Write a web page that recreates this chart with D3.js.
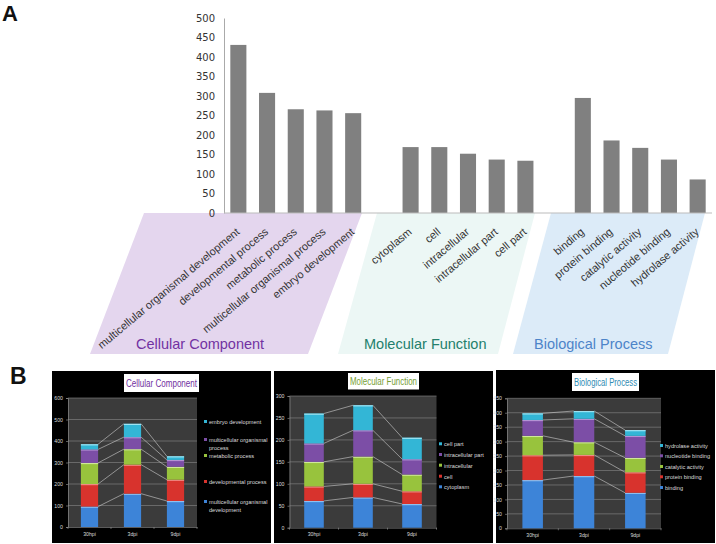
<!DOCTYPE html>
<html><head><meta charset="utf-8">
<script src="https://cdn.jsdelivr.net/npm/d3@7"></script>
<style>body{margin:0;background:#fff}svg{display:block}</style>
</head><body><svg id="c" width="716" height="544"></svg>
<script>
// ---------- Panel A data ----------
const groupNames = ["Cellular Component", "Molecular Function", "Biological Process"];
const ccTerms = ["multicellular organismal development", "developmental process", "metabolic process", "multicellular organismal process", "embryo development"];
const ccCounts = [431, 308, 266, 263, 256];
const mfTerms = ["cytoplasm", "cell", "intracellular", "intracellular part", "cell part"];
const mfCounts = [169, 169, 152, 137, 134];
const bpTerms = ["binding", "protein binding", "catalytic activity", "nucleotide binding", "hydrolase activity"];
const bpCounts = [295, 186, 167, 137, 86];
const yTicksA = [0, 50, 100, 150, 200, 250, 300, 350, 400, 450, 500];

// ---------- Panel B data ----------
const timepoints = ["30hpi", "3dpi", "9dpi"];
const ccStackNames = ["multicellular organismal development", "developmental process", "metabolic process", "multicellular organismal process", "embryo development"];
const ccStackValues = [[95, 155, 121], [105, 135, 99], [98, 72, 60], [63, 56, 32], [24, 62, 17]];
const mfStackNames = ["cytoplasm", "cell", "intracellular", "intracellular part", "cell part"];
const mfStackValues = [[61, 69, 54], [33, 31, 29], [56, 62, 38], [42, 60, 35], [68, 57, 49]];
const bpStackNames = ["binding", "protein binding", "catalytic activity", "nucleotide binding", "hydrolase activity"];
const bpStackValues = [[167, 181, 123], [86, 73, 71], [67, 44, 50], [55, 81, 76], [23, 27, 20]];
const ccTicks = [0, 100, 200, 300, 400, 500, 600];
const mfTicks = [0, 50, 100, 150, 200, 250, 300];
const bpTicks = [0, 50, 100, 150, 200, 250, 300, 350, 400, 450];

const svg = d3.select("#c");
const SANS = "'Liberation Sans', Arial, sans-serif";

// ================= Panel A =================
svg.append("text").attr("x", 2).attr("y", 21).text("A")
  .attr("font-family", SANS).attr("font-weight", "bold").attr("font-size", 22).attr("fill", "#111");

// background parallelograms
const shapes = [
  {pts: [[144, 213], [362, 213], [308, 354], [90, 354]], fill: "#e4d6ee"},
  {pts: [[377, 213], [535, 213], [498, 354], [338, 354]], fill: "#ecf7f5"},
  {pts: [[551, 213], [705, 213], [668, 354], [513, 354]], fill: "#dcebf8"}
];
svg.selectAll("polygon.bg").data(shapes).join("polygon").attr("class", "bg")
  .attr("points", d => d.pts.map(p => p.join(",")).join(" "))
  .attr("fill", d => d.fill);

const groupLabel = [
  {x: 136, y: 349, color: "#7232a2"},
  {x: 364, y: 349, color: "#23806c"},
  {x: 534, y: 349, color: "#4d84c9"}
];
svg.selectAll("text.grp").data(groupNames).join("text").attr("class", "grp")
  .attr("x", (d, i) => groupLabel[i].x).attr("y", (d, i) => groupLabel[i].y)
  .attr("fill", (d, i) => groupLabel[i].color)
  .attr("font-family", SANS).attr("font-size", 14.5).text(d => d);

const items = [];
[[ccTerms, ccCounts], [mfTerms, mfCounts], [bpTerms, bpCounts]].forEach(([t, c], g) => {
  t.forEach((term, i) => items.push({term, count: c[i], slot: g * 6 + i}));
});
const xA = d3.scaleBand().domain(d3.range(17)).range([224, 712]).paddingInner(0.44).paddingOuter(0.22);
const yA = d3.scaleLinear().domain([0, 500]).range([213, 18]);

svg.selectAll("rect.barA").data(items).join("rect").attr("class", "barA")
  .attr("x", d => xA(d.slot)).attr("width", xA.bandwidth())
  .attr("y", d => yA(d.count)).attr("height", d => yA(0) - yA(d.count))
  .attr("fill", "#808080");

const yAxisA = d3.axisLeft(yA).tickValues(yTicksA).tickSize(0).tickPadding(9);
const gA = svg.append("g").attr("transform", "translate(224,0)").call(yAxisA);
gA.select(".domain").attr("stroke", "#aaa");
gA.selectAll("text").attr("font-family", "'DejaVu Sans', Verdana, sans-serif").attr("font-size", 10).attr("fill", "#333");
svg.append("line").attr("x1", 224).attr("x2", 712).attr("y1", yA(0)).attr("y2", yA(0)).attr("stroke", "#bbb");

svg.selectAll("text.term").data(items).join("text").attr("class", "term")
  .attr("transform", d => `translate(${xA(d.slot) + xA.bandwidth() / 2 + 2},${yA(0) + 20}) rotate(-40)`)
  .attr("text-anchor", "end").attr("font-family", SANS).attr("font-size", 11).attr("fill", "#333")
  .text(d => d.term);

// ================= Panel B =================
svg.append("text").attr("x", 10).attr("y", 384).text("B")
  .attr("font-family", SANS).attr("font-weight", "bold").attr("font-size", 23).attr("fill", "#111");

const stackColors = ["#3d84d8", "#d8332d", "#98c33d", "#7c4ea6", "#33b6d6"];
const stackLight = ["#8fc0f0", "#f08a84", "#cfe89a", "#b393d4", "#9fe3f2"];

const panels = [
  {names: ccStackNames, values: ccStackValues, ticks: ccTicks, title: groupNames[0], titleColor: "#7030a0",
   box: [52, 371, 271, 543], plot: {l: 68, r: 197, t: 398, b: 527},
   titleBox: [124, 374, 75, 18], legendX: 204, legendY: [502, 482, 456, 440, 422], wrap: true, lineGap: 8},
  {names: mfStackNames, values: mfStackValues, ticks: mfTicks, title: groupNames[1], titleColor: "#76a034",
   box: [274, 371, 493, 543], plot: {l: 289.5, r: 436.5, t: 396, b: 527.7},
   titleBox: [348, 373, 71, 16.5], legendX: 439, legendY: [487.3, 476.7, 465.7, 455, 444.3], wrap: false, lineGap: 8},
  {names: bpStackNames, values: bpStackValues, ticks: bpTicks, title: groupNames[2], titleColor: "#2f8cb4",
   box: [496, 370, 715, 543], plot: {l: 507, r: 661, t: 398.3, b: 528.3},
   titleBox: [572, 373, 67, 18], legendX: 660, legendY: [488, 477.3, 467, 456.3, 446], wrap: false, lineGap: 8}
];

panels.forEach(p => {
  const g = svg.append("g");
  g.append("rect").attr("x", p.box[0]).attr("y", p.box[1]).attr("width", p.box[2] - p.box[0]).attr("height", p.box[3] - p.box[1]).attr("fill", "#000");
  const P = p.plot;
  g.append("rect").attr("x", P.l).attr("y", P.t).attr("width", P.r - P.l).attr("height", P.b - P.t).attr("fill", "#3b3b3b");
  const maxV = p.ticks[p.ticks.length - 1];
  const y = d3.scaleLinear().domain([0, maxV]).range([P.b, P.t]);
  const x = d3.scaleBand().domain(timepoints).range([P.l, P.r]).paddingInner(0.6).paddingOuter(0.3);
  // grid
  g.selectAll("line.grid").data(p.ticks.filter(t => t > 0)).join("line").attr("class", "grid")
    .attr("x1", P.l).attr("x2", P.r).attr("y1", d => y(d)).attr("y2", d => y(d))
    .attr("stroke", "#8a8a8a").attr("stroke-width", 0.6);
  // y axis
  const ya = g.append("g").attr("transform", `translate(${P.l},0)`)
    .call(d3.axisLeft(y).tickValues(p.ticks).tickSize(2).tickPadding(3));
  ya.select(".domain").attr("stroke", "#999").attr("stroke-width", 0.6);
  ya.selectAll("line").attr("stroke", "#999").attr("stroke-width", 0.6);
  ya.selectAll("text").attr("font-family", SANS).attr("font-size", 5.2).attr("fill", "#ddd");
  // x axis
  const xa = g.append("g").attr("transform", `translate(0,${P.b})`)
    .call(d3.axisBottom(x).tickSize(0).tickPadding(5));
  xa.select(".domain").attr("stroke", "#999").attr("stroke-width", 0.6);
  xa.selectAll("text").attr("font-family", SANS).attr("font-size", 5.2).attr("fill", "#ddd");
  g.selectAll("line.xt").data(d3.range(4)).join("line").attr("class", "xt")
    .attr("x1", i => P.l + i * (P.r - P.l) / 3).attr("x2", i => P.l + i * (P.r - P.l) / 3)
    .attr("y1", P.b).attr("y2", P.b + 2).attr("stroke", "#999").attr("stroke-width", 0.6);

  // stack
  const rows = timepoints.map((t, j) => {
    const o = {t};
    p.names.forEach((n, k) => o[k] = p.values[k][j]);
    return o;
  });
  const stack = d3.stack().keys(d3.range(p.names.length))(rows);
  // series lines
  stack.forEach(layer => {
    for (let j = 0; j < timepoints.length - 1; j++) {
      g.append("line")
        .attr("x1", x(timepoints[j]) + x.bandwidth()).attr("y1", y(layer[j][1]))
        .attr("x2", x(timepoints[j + 1])).attr("y2", y(layer[j + 1][1]))
        .attr("stroke", "#d0d0d0").attr("stroke-width", 0.6);
    }
  });
  stack.forEach((layer, k) => {
    g.selectAll(null).data(layer).join("rect")
      .attr("x", d => x(d.data.t)).attr("width", x.bandwidth())
      .attr("y", d => y(d[1])).attr("height", d => y(d[0]) - y(d[1]))
      .attr("fill", stackColors[k]);
    g.selectAll(null).data(layer).join("rect")
      .attr("x", d => x(d.data.t)).attr("width", x.bandwidth())
      .attr("y", d => y(d[1])).attr("height", 1.2)
      .attr("fill", stackLight[k]);
  });
  // title box
  g.append("rect").attr("x", p.titleBox[0]).attr("y", p.titleBox[1]).attr("width", p.titleBox[2]).attr("height", p.titleBox[3]).attr("fill", "#fff");
  g.append("text").attr("x", p.titleBox[0] + p.titleBox[2] / 2).attr("y", p.titleBox[1] + p.titleBox[3] / 2 + 3.5)
    .attr("text-anchor", "middle").attr("font-family", SANS).attr("font-size", 10)
    .attr("textLength", p.titleBox[2] - 4).attr("lengthAdjust", "spacingAndGlyphs")
    .attr("fill", p.titleColor).text(p.title);
  // legend
  p.names.forEach((n, k) => {
    const ly = p.legendY[k];
    g.append("rect").attr("x", p.legendX).attr("y", ly - 2).attr("width", 3).attr("height", 3).attr("fill", stackColors[k]);
    const words = n.split(" ");
    const lines = (p.wrap && words.length > 2) ? [words.slice(0, 2).join(" "), words.slice(2).join(" ")] : [n];
    const tx = g.append("text").attr("font-family", SANS).attr("font-size", 5.6).attr("fill", "#ddd");
    lines.forEach((ln, li) => tx.append("tspan").attr("x", p.legendX + 5).attr("y", ly + 1.8 + li * p.lineGap).text(ln));
  });
});
</script></body></html>
